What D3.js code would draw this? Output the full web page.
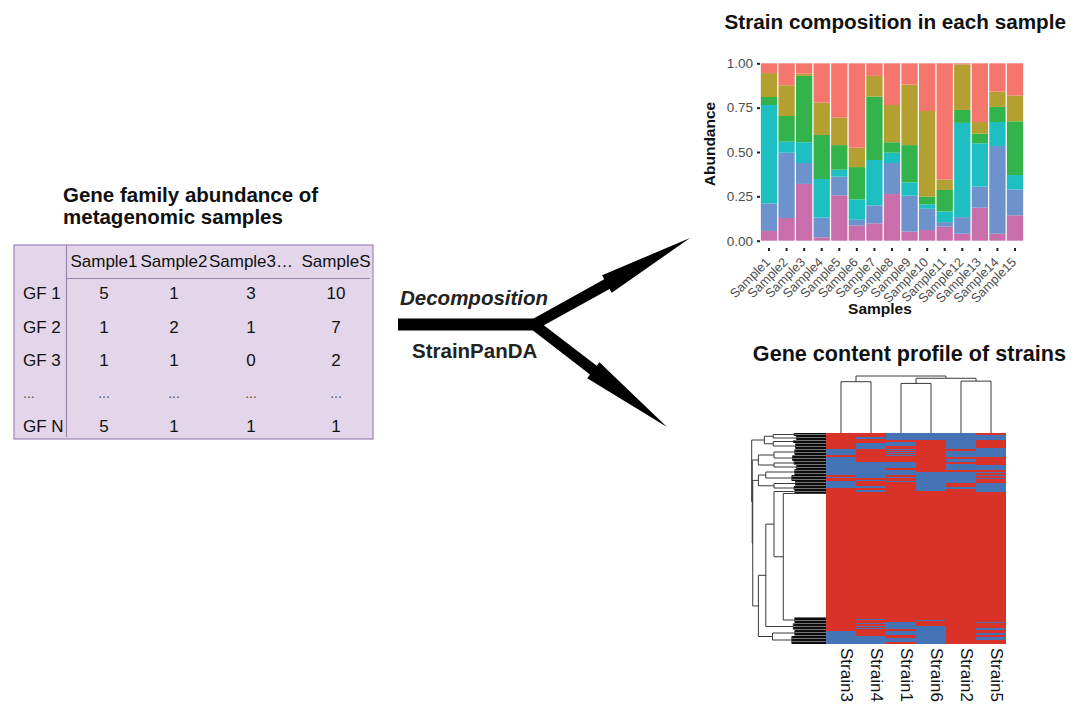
<!DOCTYPE html>
<html><head><meta charset="utf-8">
<script src="https://cdn.jsdelivr.net/npm/d3@7"></script>
<style>body{margin:0;background:#fff;} svg{display:block;font-family:"Liberation Sans",Arial,sans-serif;}</style>
</head><body>
<svg id="fig" width="1080" height="718"></svg>
<script>
// ---------------- DATA ----------------
// Table of gene family abundance
const tableCols = ["Sample1", "Sample2", "Sample3…", "SampleS"];
const tableRows = ["GF 1", "GF 2", "GF 3", "...", "GF N"];
const tableValues = [[5, 1, 3, 10], [1, 2, 1, 7], [1, 1, 0, 2], ["...", "...", "...", "..."], [5, 1, 1, 1]];

// Stacked bar chart: strain composition
const samples = ["Sample1","Sample2","Sample3","Sample4","Sample5","Sample6","Sample7","Sample8","Sample9","Sample10","Sample11","Sample12","Sample13","Sample14","Sample15"];
const strains = ["Strain1","Strain2","Strain3","Strain4","Strain5","Strain6"];
const strain1Abund = [.055,.124,.058,.222,.305,.476,.071,.235,.12,.269,.656,.006,.331,.16,.182];
const strain2Abund = [.135,.173,.013,.182,.156,.109,.117,.21,.341,.483,.058,.257,.066,.086,.145];
const strain3Abund = [.045,.145,.374,.248,.139,.182,.357,.059,.21,.043,.121,.073,.054,.085,.303];
const strain4Abund = [.555,.062,.117,.218,.039,.115,.256,.058,.075,.025,.06,.531,.244,.135,.081];
const strain5Abund = [.155,.368,.118,.111,.105,.033,.101,.175,.203,.12,.026,.094,.119,.495,.146];
const strain6Abund = [.055,.128,.32,.019,.256,.085,.098,.263,.051,.06,.079,.039,.186,.039,.143];
const strainColors = ["#F4766D","#B49F31","#33B34B","#1EBFC3","#6E93CC","#C96EAB"];
const yTicks = [0, 0.25, 0.5, 0.75, 1];

// Heatmap: gene content (red = present, blue = absent rows)
const heatStrains = ["Strain3","Strain4","Strain1","Strain6","Strain2","Strain5"];
const nGenes = 211;
const absentRows = {
  Strain3: [[16,22],[24,42],[44,45],[48,55],[198,211]],
  Strain4: [[4,6],[10,16],[29,45],[47,48],[53,55],[57,59],[186,187],[190,191],[193,194],[195,196],[203,211]],
  Strain1: [[0,7],[9,13],[16,17],[18,19],[20,21],[22,23],[29,35],[37,42],[44,45],[48,49],[189,196],[198,202],[205,209]],
  Strain6: [[0,7],[39,58],[187,188],[193,211]],
  Strain2: [[0,16],[18,24],[26,29],[31,37],[39,50],[54,56]],
  Strain5: [[2,7],[15,24],[32,37],[39,40],[42,43],[45,46],[50,59],[189,190],[195,197],[200,202],[204,207]]
};
// Column dendrogram (heights 0..1)
const colTree = {h:1, c:[{h:0.9, c:["Strain3","Strain4"]},
                          {h:0.96, c:[{h:0.87, c:["Strain1","Strain6"]},{h:0.91, c:["Strain2","Strain5"]}]}]};
// Row dendrogram (heights 0..10); leaves are row groups
const rowTree = {h:10, c:[
  {h:8.3, c:[{h:7.1, c:[{r:[0,3],h:4.3},{r:[3,7],h:4.0}]}, {h:7.1, c:[{r:[7,10],h:4.4},{r:[10,16],h:4.1}]}]},
  {h:9.93, c:[
    {h:9.1, c:[{h:7.0, c:[{r:[16,22],h:4.2},{r:[22,28],h:4.5}]}, {h:7.0, c:[{r:[28,32],h:4.3},{r:[32,36],h:4.0}]}]},
    {h:9.86, c:[
      {h:9.1, c:[{h:8.1, c:[{r:[36,42],h:4.2},{r:[42,48],h:4.6}]}, {h:7.0, c:[{r:[48,53],h:4.1},{r:[53,57],h:4.3}]}]},
      {h:9.1, c:[
        {h:8.1, c:[
          {h:7.0, c:[{r:[57,60],h:4.2}, {h:5.75, c:[{r:[60,184],h:0,anchor:60},{r:[184,190],h:4.2}]}]},
          {r:[190,197],h:4.4}
        ]},
        {h:7.2, c:[{r:[197,203],h:4.2},{r:[203,211],h:4.6}]}
      ]}
    ]}
  ]}
]};

// ---------------- DRAWING ----------------
const svg = d3.select("#fig");
const ink = "#111";

// ===== Table =====
const tg = svg.append("g");
tg.append("text").attr("x", 63).attr("y", 202).attr("font-size", 20.5).attr("font-weight", "bold").attr("fill", ink).text("Gene family abundance of");
tg.append("text").attr("x", 63).attr("y", 224).attr("font-size", 20.5).attr("font-weight", "bold").attr("fill", ink).text("metagenomic samples");
tg.append("rect").attr("x", 14).attr("y", 245).attr("width", 359).attr("height", 194)
  .attr("fill", "#E3D6EA").attr("stroke", "#A58DBB").attr("stroke-width", 1.3);
tg.append("line").attr("x1", 66.5).attr("x2", 66.5).attr("y1", 245).attr("y2", 437).attr("stroke", "#9A88AC").attr("stroke-width", 1.2);
tg.append("line").attr("x1", 66.5).attr("x2", 370).attr("y1", 278.5).attr("y2", 278.5).attr("stroke", "#9A88AC").attr("stroke-width", 1.2);
const tcx = d3.scaleOrdinal().domain(tableCols).range([104, 174, 251, 336]);
const tcy = d3.scalePoint().domain(tableRows).range([293.5, 426.5]);
tg.selectAll(".hdr").data(tableCols).join("text")
  .attr("x", d => tcx(d)).attr("y", 261).attr("dy", "0.35em").attr("text-anchor", "middle")
  .attr("font-size", 17).attr("fill", ink).text(d => d);
tg.selectAll(".rl").data(tableRows).join("text")
  .attr("x", 23).attr("y", d => tcy(d)).attr("dy", "0.35em")
  .attr("font-size", d => d === "..." ? 14 : 17).attr("fill", d => d === "..." ? "#555" : ink).text(d => d);
tableRows.forEach((r, i) => {
  tableValues[i].forEach((v, j) => {
    tg.append("text").attr("x", tcx(tableCols[j])).attr("y", tcy(r)).attr("dy", "0.35em").attr("text-anchor", "middle")
      .attr("font-size", v === "..." ? 14 : 17).attr("fill", v === "..." ? "#555" : ink).text(v);
  });
});

// ===== Arrows =====
const ag = svg.append("g").attr("fill", "#000");
ag.append("rect").attr("x", 398).attr("y", 318.5).attr("width", 144).attr("height", 12);
function arrowPts(sx, sy, tx, ty, shw, hhw, hl) {
  const dx = tx - sx, dy = ty - sy, L = Math.hypot(dx, dy), ux = dx / L, uy = dy / L, px = -uy, py = ux;
  const bx = tx - ux * hl, by = ty - uy * hl;
  return [[sx + px * shw, sy + py * shw], [bx + px * shw, by + py * shw], [bx + px * hhw, by + py * hhw], [tx, ty],
          [bx - px * hhw, by - py * hhw], [bx - px * shw, by - py * shw], [sx - px * shw, sy - py * shw]];
}
const line = d3.line();
ag.append("path").attr("d", line(arrowPts(534, 324.5, 690, 238, 5.5, 10, 95)) + "Z");
ag.append("path").attr("d", line(arrowPts(534, 324.5, 667, 427, 5.5, 10, 93)) + "Z");
svg.append("text").attr("x", 400).attr("y", 305).attr("font-size", 20.5).attr("font-weight", "bold").attr("font-style", "italic").attr("fill", "#222").text("Decomposition");
svg.append("text").attr("x", 412).attr("y", 358).attr("font-size", 20.5).attr("font-weight", "bold").attr("fill", "#222").text("StrainPanDA");

// ===== Stacked bar chart =====
const bg = svg.append("g");
const abund = [strain1Abund, strain2Abund, strain3Abund, strain4Abund, strain5Abund, strain6Abund];
const barRows = samples.map((s, i) => { const o = {sample: s}; strains.forEach((k, j) => o[k] = abund[j][i]); return o; });
const color = d3.scaleOrdinal().domain(strains).range(strainColors);
const x = d3.scaleBand().domain(samples).range([758.5, 1025.5]).paddingInner(0.072).paddingOuter(0.134);
const y = d3.scaleLinear().domain([0, 1]).range([240.7, 63.3]);
const series = d3.stack().keys(strains.slice().reverse())(barRows);
bg.selectAll("g.s").data(series).join("g").attr("fill", d => color(d.key))
  .selectAll("rect").data(d => d).join("rect")
  .attr("x", d => x(d.data.sample)).attr("width", x.bandwidth())
  .attr("y", d => y(d[1])).attr("height", d => y(d[0]) - y(d[1]));
const yAxis = bg.append("g").attr("transform", "translate(760,0)")
  .call(d3.axisLeft(y).tickValues(yTicks).tickFormat(d3.format(".2f")).tickSize(3).tickPadding(4));
yAxis.select(".domain").remove();
yAxis.selectAll("line").attr("stroke", "#222").attr("stroke-width", 2);
yAxis.selectAll("text").attr("font-size", 13.5).attr("fill", "#4D4D4D").attr("font-family", "Liberation Sans, Arial, sans-serif");
const xAxis = bg.append("g").attr("transform", "translate(0,248)")
  .call(d3.axisBottom(x).tickSize(3).tickFormat(""));
xAxis.select(".domain").remove();
xAxis.selectAll("line").attr("stroke", "#222").attr("stroke-width", 2);
bg.selectAll(".xl").data(samples).join("text")
  .attr("transform", d => `translate(${x(d) + x.bandwidth() / 2 + 2},263) rotate(-45)`)
  .attr("text-anchor", "end").attr("font-size", 12.8).attr("fill", "#4D4D4D").text(d => d);
bg.append("text").attr("transform", "translate(715,144) rotate(-90)").attr("text-anchor", "middle")
  .attr("font-size", 15.5).attr("font-weight", "bold").attr("fill", ink).text("Abundance");
bg.append("text").attr("x", 880).attr("y", 314).attr("text-anchor", "middle")
  .attr("font-size", 15.5).attr("font-weight", "bold").attr("fill", ink).text("Samples");
bg.append("text").attr("x", 1066).attr("y", 29).attr("text-anchor", "end")
  .attr("font-size", 20.7).attr("font-weight", "bold").attr("fill", ink).text("Strain composition in each sample");

// ===== Heatmap =====
const hg = svg.append("g");
const hx = d3.scaleBand().domain(heatStrains).range([826, 1006]);
const hy = d3.scaleLinear().domain([0, nGenes]).range([433, 644]);
const heatColor = d3.scaleOrdinal().domain([1, 0]).range(["#D93229", "#4474B6"]);
heatStrains.forEach(s => {
  hg.append("rect").attr("x", hx(s)).attr("width", hx.bandwidth()).attr("y", hy(0)).attr("height", hy(nGenes) - hy(0))
    .attr("fill", heatColor(1)).attr("shape-rendering", "crispEdges");
  hg.selectAll(null).data(absentRows[s]).join("rect")
    .attr("x", hx(s)).attr("width", hx.bandwidth())
    .attr("y", d => hy(d[0])).attr("height", d => hy(d[1]) - hy(d[0]))
    .attr("fill", heatColor(0)).attr("shape-rendering", "crispEdges");
});
hg.selectAll(".cl").data(heatStrains).join("text")
  .attr("transform", d => `translate(${hx(d) + hx.bandwidth() / 2},648) rotate(90)`)
  .attr("font-size", 17).attr("fill", ink).text(d => d);
hg.append("text").attr("x", 1066).attr("y", 361).attr("text-anchor", "end")
  .attr("font-size", 21.6).attr("font-weight", "bold").attr("fill", ink).text("Gene content profile of strains");

// Dendrograms
const dg = svg.append("g").attr("fill", "none");
function seg(g, x1, y1, x2, y2, w, c) {
  g.append("line").attr("x1", x1).attr("y1", y1).attr("x2", x2).attr("y2", y2)
   .attr("stroke-width", w || 1).attr("stroke", c || "#3a3a3a");
}
const cyS = d3.scaleLinear().domain([0, 1]).range([433, 376]);
function colNode(n) {
  if (typeof n === "string") return {pos: hx(n) + hx.bandwidth() / 2, h: 0};
  const ch = n.c.map(colNode);
  seg(dg, ch[0].pos, cyS(n.h), ch[1].pos, cyS(n.h));
  ch.forEach(c => seg(dg, c.pos, cyS(n.h), c.pos, cyS(c.h)));
  return {pos: (ch[0].pos + ch[1].pos) / 2, h: n.h};
}
colNode(colTree);
const rxS = d3.scaleLinear().domain([0, 10]).range([826, 751.7]);
function rowNode(n) {
  if (n.r) {
    const [a, b] = n.r;
    if (n.h > 0) {
      for (let i = a; i < b; i++) seg(dg, rxS(0), hy(i + 0.5), rxS(n.h), hy(i + 0.5), (i % 3 === 1) ? 0.55 : 0.95, "#000");
      seg(dg, rxS(n.h), hy(a + 0.5), rxS(n.h), hy(b - 0.5));
    }
    return {pos: n.anchor != null ? n.anchor + 0.5 : (a + b) / 2, h: n.h};
  }
  const ch = n.c.map(rowNode);
  seg(dg, rxS(n.h), hy(ch[0].pos), rxS(n.h), hy(ch[1].pos));
  ch.forEach(c => seg(dg, rxS(n.h), hy(c.pos), rxS(c.h), hy(c.pos)));
  return {pos: (ch[0].pos + ch[1].pos) / 2, h: n.h};
}
rowNode(rowTree);
</script></body></html>
